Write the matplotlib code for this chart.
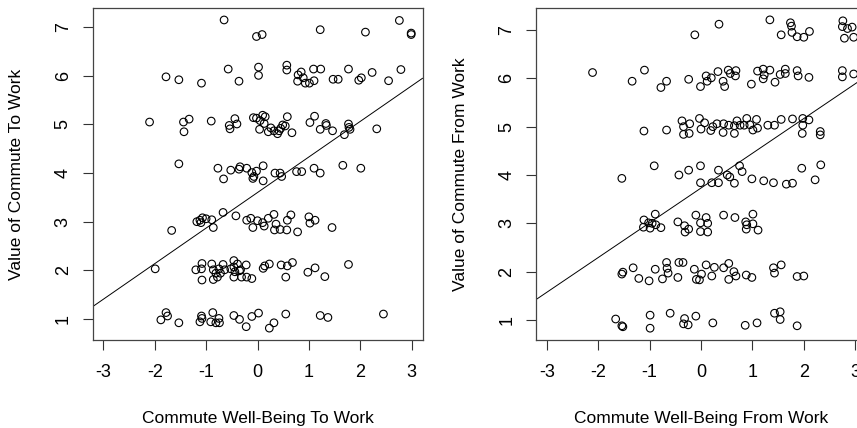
import numpy as np
import matplotlib
matplotlib.use("Agg")
import matplotlib.pyplot as plt

plt.rcParams['font.family'] = ['Liberation Sans', 'DejaVu Sans']
plt.rcParams['axes.unicode_minus'] = False

# commute well-being (x) vs jittered commute value (y), trip to work
to_work = [
    (-0.65, 7.15), (-0.02, 6.81), (0.09, 6.85), (1.22, 6.95), (2.10, 6.90), (2.76, 7.14), (2.99, 6.88), (2.99, 6.85),
    (-0.57, 6.14), (-1.78, 5.98), (-1.53, 5.92), (-1.09, 5.85), (-0.36, 5.89), (0.02, 6.18), (0.02, 6.01),
    (0.57, 6.22), (0.57, 6.12), (0.79, 6.02), (0.85, 6.08), (0.89, 5.96), (0.78, 5.89), (0.93, 5.85),
    (1.01, 5.85), (1.10, 5.90), (1.09, 6.14), (1.23, 6.14), (1.47, 5.93), (1.57, 5.93), (1.77, 6.14),
    (1.97, 5.91), (2.02, 5.96), (2.23, 6.07), (2.55, 5.90), (2.79, 6.13),
    (-2.10, 5.05), (-1.44, 5.05), (-1.33, 5.11), (-1.43, 4.85), (-0.90, 5.07), (-0.55, 4.98), (-0.535, 4.91),
    (-0.44, 5.12), (-0.40, 5.01), (-0.08, 5.14), (-0.02, 5.13), (0.05, 5.08), (0.10, 5.19), (0.15, 5.16),
    (0.04, 4.90), (0.13, 5.02), (0.21, 4.85), (0.26, 4.93), (0.32, 4.87), (0.39, 4.81), (0.42, 4.87),
    (0.45, 4.92), (0.49, 4.99), (0.54, 4.97), (0.58, 5.16), (0.67, 4.83), (1.02, 5.04), (1.11, 5.17),
    (1.22, 4.90), (1.33, 5.02), (1.34, 4.98), (1.46, 4.87), (1.69, 4.79), (1.77, 5.01), (1.78, 4.94),
    (1.80, 4.90), (2.32, 4.91),
    (-1.53, 4.19), (-0.77, 4.10), (-0.52, 4.06), (-0.36, 4.08), (-0.66, 3.88), (-0.34, 4.13), (-0.21, 4.10),
    (-0.11, 4.01), (-0.02, 4.04), (0.11, 4.15), (-0.07, 3.93), (0.34, 4.00), (0.44, 4.00), (0.47, 3.93),
    (0.76, 4.03), (0.86, 4.03), (1.10, 4.10), (1.22, 4.00), (1.66, 4.16), (2.01, 4.10), (-0.09, 3.89),
    (0.11, 3.84),
    (-1.67, 2.82), (-1.18, 3.00), (-1.12, 3.03), (-1.07, 3.08), (-1.00, 3.06), (-0.89, 3.04), (-0.86, 2.88),
    (-1.10, 2.98), (-0.67, 3.19), (-0.42, 3.12), (-0.21, 3.03), (-0.13, 3.07), (-0.09, 2.88), (0.00, 3.02),
    (0.10, 2.98), (0.13, 2.91), (0.21, 3.07), (0.32, 3.15), (0.36, 2.95), (0.33, 2.83), (0.44, 2.84),
    (0.57, 2.83), (0.58, 3.03), (0.65, 3.14), (0.78, 2.79), (1.00, 3.10), (1.02, 2.97), (1.12, 3.03),
    (1.45, 2.88),
    (-1.99, 2.03), (-1.20, 2.01), (-1.09, 2.03), (-1.08, 2.14), (-1.08, 1.80), (-0.89, 2.13), (-0.86, 2.01),
    (-0.86, 1.81), (-0.81, 1.94), (-0.75, 2.03), (-0.78, 1.86), (-0.72, 1.94), (-0.67, 2.12), (-0.64, 2.01),
    (-0.52, 2.03), (-0.46, 2.20), (-0.46, 1.86), (-0.39, 2.13), (-0.35, 1.99), (-0.46, 2.07), (-0.44, 1.97),
    (-0.33, 2.01), (-0.31, 1.86), (-0.22, 2.11), (-0.21, 1.86), (-0.11, 1.83), (0.11, 2.04), (0.14, 2.09),
    (0.23, 2.13), (0.46, 2.11), (0.55, 1.86), (0.58, 2.09), (0.68, 2.16), (0.98, 1.96), (1.12, 2.05),
    (1.31, 1.87), (1.77, 2.12),
    (-1.88, 0.98), (-1.78, 1.13), (-1.75, 1.06), (-1.53, 0.92), (-1.12, 0.94), (-1.09, 1.06), (-1.08, 1.01),
    (-0.91, 0.94), (-0.87, 1.13), (-0.81, 0.92), (-0.74, 0.92), (-0.75, 1.01), (-0.46, 1.07), (-0.35, 0.99),
    (-0.22, 0.84), (-0.11, 1.05), (0.02, 1.12), (0.23, 0.81), (0.32, 0.92), (0.55, 1.10), (1.22, 1.07),
    (1.37, 1.03), (2.45, 1.10),
]

# same for the trip home
from_work = [
    (-0.12, 6.90), (0.35, 7.12), (1.34, 7.21), (1.56, 6.90), (1.74, 7.15), (1.76, 7.08), (1.77, 6.95),
    (1.87, 6.86), (2.00, 6.85), (2.11, 6.97), (2.76, 7.19), (2.75, 7.07), (2.85, 7.03), (2.94, 7.06),
    (2.79, 6.83), (2.97, 6.85),
    (-2.11, 6.12), (-1.34, 5.94), (-1.10, 6.17), (-0.78, 5.81), (-0.67, 5.94), (-0.24, 5.98), (-0.01, 5.83),
    (0.10, 6.05), (0.12, 5.94), (0.20, 6.01), (0.33, 6.14), (0.43, 5.94), (0.46, 5.83), (0.53, 6.17),
    (0.57, 6.10), (0.68, 6.16), (0.67, 6.05), (0.98, 5.88), (1.10, 6.15), (1.21, 6.19), (1.23, 6.07),
    (1.21, 5.99), (1.34, 6.17), (1.44, 5.92), (1.54, 6.08), (1.64, 6.19), (1.64, 6.10), (1.87, 6.16),
    (1.89, 6.05), (2.10, 6.02), (2.75, 6.16), (2.75, 6.03), (2.97, 6.09),
    (-1.11, 4.91), (-0.67, 4.93), (-0.37, 5.12), (-0.34, 5.00), (-0.34, 4.84), (-0.22, 5.06), (-0.23, 4.86),
    (-0.03, 5.17), (0.00, 4.95), (0.07, 5.08), (0.19, 4.92), (0.23, 5.00), (0.31, 5.06), (0.43, 4.88),
    (0.44, 5.06), (0.54, 5.03), (0.65, 5.02), (0.65, 4.86), (0.70, 5.12), (0.76, 5.03), (0.84, 5.03),
    (0.89, 5.17), (0.95, 5.04), (1.01, 4.93), (1.08, 5.15), (1.10, 4.97), (1.30, 5.03), (1.43, 5.03),
    (1.56, 5.15), (1.78, 5.16), (1.98, 5.17), (1.98, 5.03), (1.97, 4.86), (2.10, 5.14), (2.32, 4.90),
    (2.32, 4.83),
    (-0.91, 4.19), (-1.54, 3.93), (-0.43, 4.00), (-0.24, 4.10), (-0.01, 4.19), (0.34, 4.10), (0.51, 4.00),
    (0.75, 4.19), (0.80, 4.07), (1.96, 4.14), (2.33, 4.21), (-0.01, 3.84), (0.21, 3.84), (0.34, 3.84),
    (0.56, 3.96), (0.65, 3.83), (0.99, 3.92), (1.22, 3.88), (1.41, 3.84), (1.66, 3.81), (1.78, 3.83),
    (2.22, 3.90),
    (-1.11, 3.07), (-1.12, 2.92), (-1.02, 3.01), (-0.99, 2.90), (-0.95, 3.00), (-0.89, 3.19), (-0.88, 2.97),
    (-0.78, 2.91), (-0.45, 3.03), (-0.32, 2.95), (-0.31, 2.82), (-0.24, 2.88), (-0.10, 3.17), (-0.01, 3.01),
    (-0.01, 2.83), (0.10, 3.12), (0.13, 3.00), (0.13, 2.82), (0.44, 3.17), (0.66, 3.12), (0.87, 3.03),
    (0.89, 2.97), (0.88, 2.88), (1.01, 3.19), (1.01, 2.99), (1.11, 2.86),
    (-1.54, 1.95), (-1.52, 1.99), (-1.32, 2.08), (-1.21, 1.86), (-1.01, 1.81), (-0.89, 2.05), (-0.75, 1.85),
    (-0.67, 2.19), (-0.66, 2.07), (-0.64, 1.97), (-0.45, 1.88), (-0.43, 2.19), (-0.35, 2.19), (-0.13, 2.05),
    (-0.09, 1.84), (-0.03, 1.83), (0.01, 1.95), (0.10, 2.14), (0.21, 1.91), (0.26, 2.09), (0.44, 2.08),
    (0.54, 2.17), (0.54, 1.84), (0.64, 2.00), (0.68, 1.91), (0.88, 1.93), (0.99, 1.88), (1.41, 2.08),
    (1.43, 1.97), (1.56, 2.14), (1.87, 1.90), (2.00, 1.91),
    (-1.66, 1.02), (-1.54, 0.88), (-1.52, 0.86), (-0.99, 1.10), (-0.99, 0.83), (-0.60, 1.14), (-0.32, 1.03),
    (-0.34, 0.92), (-0.25, 0.90), (-0.10, 1.08), (0.23, 0.94), (0.86, 0.89), (1.09, 0.94), (1.43, 1.14),
    (1.54, 1.17), (1.54, 1.01), (1.87, 0.88),
]

# lm fit lines (intercept, slope)
to_fit = (3.60, 0.732)
from_fit = (3.73, 0.719)

x_ticks = [-3, -2, -1, 0, 1, 2, 3]
y_ticks = [1, 2, 3, 4, 5, 6, 7]


def panel(ax, pts, fit, xlabel, ylabel, ylim):
    xy = np.array(pts)
    ax.scatter(xy[:, 0], xy[:, 1], s=30, facecolors='none', edgecolors='black', linewidths=0.8)
    ax.axline((0, fit[0]), slope=fit[1], color='black', lw=0.7)
    ax.set_xlim(-3.21, 3.21)
    ax.set_ylim(*ylim)
    ax.set_xticks(x_ticks)
    ax.set_yticks(y_ticks)
    ax.tick_params(axis='both', length=7, width=0.8, color='#333333', labelsize=13)
    ax.tick_params(axis='x', pad=10)
    ax.tick_params(axis='y', pad=8)
    for lab in ax.get_yticklabels():
        lab.set_rotation(90)
        lab.set_va('center')
    for s in ax.spines.values():
        s.set_color('#444444')
        s.set_linewidth(0.9)
    ax.set_xlabel(xlabel, fontsize=12.5, labelpad=22)
    ax.set_ylabel(ylabel, fontsize=12.5, labelpad=22)


fig = plt.figure(figsize=(8.57, 4.28), dpi=100)
ax1 = fig.add_axes([92.5 / 857, 88 / 428, 330 / 857, 331.7 / 428])
ax2 = fig.add_axes([536 / 857, 88 / 428, 330 / 857, 331.7 / 428])

panel(ax1, to_work, to_fit, 'Commute Well-Being To Work', 'Value of Commute To Work', (0.566, 7.39))
panel(ax2, from_work, from_fit, 'Commute Well-Being From Work', 'Value of Commute From Work', (0.586, 7.449))

fig.savefig('out.png', dpi=100)
